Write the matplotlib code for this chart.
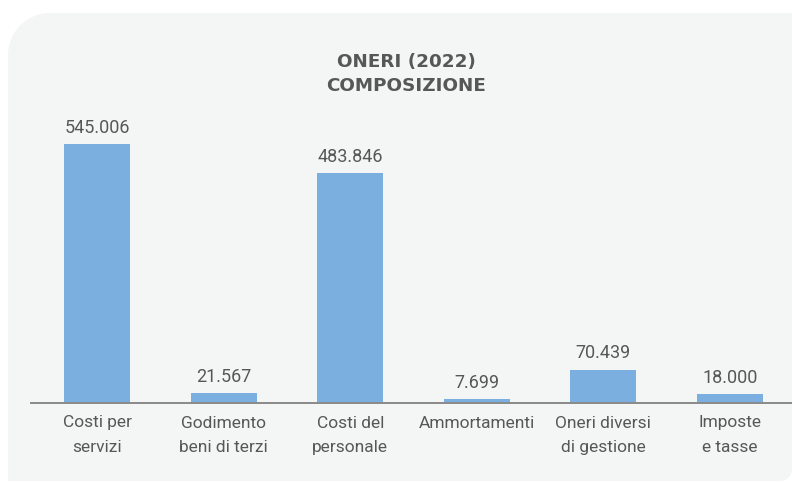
import numpy as np
import matplotlib
matplotlib.use("Agg")
import matplotlib.pyplot as plt
from matplotlib.patches import Polygon

# ---- data ----
categories = ["Costi per\nservizi", "Godimento\nbeni di terzi", "Costi del\npersonale",
              "Ammortamenti", "Oneri diversi\ndi gestione", "Imposte\ne tasse"]
values = [545006, 21567, 483846, 7699, 70439, 18000]
title_text = "ONERI (2022)\nCOMPOSIZIONE"

# ---- style ----
W, H = 792, 483
BAR = "#7aafdf"
PANEL = "#f4f6f6"
TXT = "#575757"
AXIS = "#8a8a8a"
FONT = ["Roboto", "DejaVu Sans"]

fig = plt.figure(figsize=(W / 100, H / 100), dpi=100)
fig.patch.set_facecolor("white")

# rounded background panel (pixel coords, y down)
def panel_pts(x0, y0, x1, y1, r_tl, r_br):
    pts = []
    for t in np.linspace(np.pi, 1.5 * np.pi, 30):
        pts.append((x0 + r_tl + r_tl * np.cos(t), y0 + r_tl + r_tl * np.sin(t)))
    pts.append((x1, y0))
    for t in np.linspace(0, 0.5 * np.pi, 15):
        pts.append((x1 - r_br + r_br * np.cos(t), y1 - r_br + r_br * np.sin(t)))
    pts.append((x0, y1))
    return [(x / W, 1 - y / H) for x, y in pts]

fig.patches.append(Polygon(panel_pts(8, 13, 792, 481, 42, 12), closed=True,
                           facecolor=PANEL, edgecolor="none",
                           transform=fig.transFigure, zorder=-5))

# axes layout in pixels
ax_left, ax_right, ax_bottom, ax_top = 31, 792, 403, 110
ax = fig.add_axes([ax_left / W, 1 - ax_bottom / H, (ax_right - ax_left) / W,
                   (ax_bottom - ax_top) / H])
ax.set_zorder(2)
ax.patch.set_visible(False)

x = np.arange(len(categories))
first_c, last_c = 97, 730
spacing = (last_c - first_c) / (len(categories) - 1)
ax.bar(x, values, width=66 / spacing, color=BAR, zorder=2)
ax.set_xlim(-(first_c - ax_left) / spacing, (len(categories) - 1) + (ax_right - last_c) / spacing)
ax.set_ylim(0, max(values) * (ax_bottom - ax_top) / 259)

for xi, v in zip(x, values):
    ax.annotate(f"{v:,}".replace(",", "."), (xi, v), xytext=(0, 8),
                textcoords="offset points", ha="center", va="baseline",
                fontsize=13, color=TXT, family=FONT)

ax.set_xticks(x)
ax.set_xticklabels(categories, fontsize=12.5, color=TXT, family=FONT, linespacing=1.8)
ax.tick_params(axis="x", length=0, pad=9)
ax.set_yticks([])
for s in ["top", "right", "left"]:
    ax.spines[s].set_visible(False)
ax.spines["bottom"].set_color(AXIS)
ax.spines["bottom"].set_linewidth(1.4)
ax.spines["bottom"].set_zorder(3)

fig.text(406 / W, 1 - 53 / H, title_text, ha="center", va="top", fontsize=13.2,
         fontweight="bold", color=TXT, family=["DejaVu Sans"], linespacing=1.4)

fig.savefig("out.png", dpi=100, facecolor="white")
